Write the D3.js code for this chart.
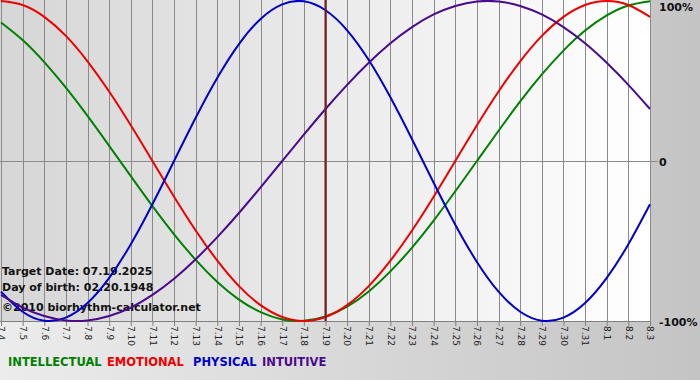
<!DOCTYPE html>
<html><head><meta charset="utf-8">
<script src="https://cdn.jsdelivr.net/npm/d3@7"></script>
<style>html,body{margin:0;padding:0;overflow:hidden;}svg{display:block;}</style>
</head><body>
<svg id="c" width="700" height="380"></svg>
<script>
const days = ["7.4","7.5","7.6","7.7","7.8","7.9","7.10","7.11","7.12","7.13","7.14","7.15","7.16","7.17","7.18","7.19","7.20","7.21","7.22","7.23","7.24","7.25","7.26","7.27","7.28","7.29","7.30","7.31","8.1","8.2","8.3"];
const physical = [-0.817,-0.942,-0.998,-0.979,-0.888,-0.731,-0.520,-0.270,0,0.270,0.520,0.731,0.888,0.979,0.998,0.942,0.817,0.631,0.398,0.136,-0.136,-0.398,-0.631,-0.817,-0.942,-0.998,-0.979,-0.888,-0.731,-0.520,-0.270];
const emotional = [1.000,0.975,0.901,0.782,0.623,0.434,0.223,0,-0.223,-0.434,-0.623,-0.782,-0.901,-0.975,-1.000,-0.975,-0.901,-0.782,-0.623,-0.434,-0.223,0,0.223,0.434,0.623,0.782,0.901,0.975,1.000,0.975,0.901];
const intellectual = [0.866,0.756,0.618,0.458,0.282,0.095,-0.095,-0.282,-0.458,-0.618,-0.756,-0.866,-0.945,-0.990,-0.999,-0.972,-0.910,-0.815,-0.690,-0.541,-0.372,-0.189,0,0.189,0.372,0.541,0.690,0.815,0.910,0.972,0.999];
const intuitive = [-0.837,-0.916,-0.969,-0.997,-0.997,-0.969,-0.916,-0.837,-0.736,-0.614,-0.476,-0.325,-0.165,0,0.165,0.325,0.476,0.614,0.736,0.837,0.916,0.969,0.997,0.997,0.969,0.916,0.837,0.736,0.614,0.476,0.325];
const yTicks = [{v:1,t:"100%"},{v:0,t:"0"},{v:-1,t:"-100%"}];
const targetDay = "7.19";
const infoLines = ["Target Date: 07.19.2025","Day of birth: 02.20.1948","\u00a92010 biorhythm-calculator.net"];
const series = [
  {name:"INTELLECTUAL", values:intellectual, color:"#008000"},
  {name:"EMOTIONAL", values:emotional, color:"#ee0000"},
  {name:"PHYSICAL", values:physical, color:"#0000cc"},
  {name:"INTUITIVE", values:intuitive, color:"#4b0a8c"}
];

const svg = d3.select("#c");
const defs = svg.append("defs");
const bg = defs.append("linearGradient").attr("id","bg").attr("x1","0").attr("x2","1").attr("y1","0").attr("y2","0");
bg.append("stop").attr("offset","0").attr("stop-color","#ececec");
bg.append("stop").attr("offset","1").attr("stop-color","#c4c4c4");
const pg = defs.append("linearGradient").attr("id","pg").attr("x1","0").attr("x2","1").attr("y1","0").attr("y2","0");
pg.append("stop").attr("offset","0").attr("stop-color","#d6d6d6");
pg.append("stop").attr("offset","1").attr("stop-color","#ffffff");

const L=1, R=650, T=1, B=321;
const x = d3.scalePoint().domain(days).range([L,R]);
const y = d3.scaleLinear().domain([-1,1]).range([B,T]);

svg.append("rect").attr("width",700).attr("height",380).attr("fill","url(#bg)");
svg.append("rect").attr("x",0).attr("y",0).attr("width",R+1).attr("height",B).attr("fill","url(#pg)");

// grid
const xAxis = d3.axisBottom(x).tickSize(5).tickPadding(3);
const gx = svg.append("g").attr("transform",`translate(0,${B})`).call(xAxis);
gx.select(".domain").attr("stroke","#808080").attr("d",`M0,0.5H${R+1}`);
gx.selectAll(".tick line").attr("stroke","#808080");
gx.selectAll(".tick text")
  .attr("transform","rotate(90)")
  .attr("x",5).attr("y",0).attr("dy","0.35em")
  .style("text-anchor","start")
  .attr("font-family","DejaVu Sans, Verdana, sans-serif")
  .attr("font-size","9px").attr("fill","#222");
svg.append("g").selectAll("line").data(days).join("line")
  .attr("x1",d=>Math.round(x(d))+0.5).attr("x2",d=>Math.round(x(d))+0.5)
  .attr("y1",0).attr("y2",B).attr("stroke","#8a8a8a").attr("stroke-width",1);
svg.append("line").attr("x1",0).attr("x2",R+8).attr("y1",Math.round(y(0))+0.5).attr("y2",Math.round(y(0))+0.5)
  .attr("stroke","#8a8a8a");

// right labels
svg.append("g").selectAll("text").data(yTicks).join("text")
  .attr("x",659).attr("y",d=>y(d.v)+ (d.v>0?6:1))
  .attr("dy","0.35em")
  .attr("font-family","DejaVu Sans, Verdana, sans-serif").attr("font-weight","bold").attr("font-size","11px")
  .attr("fill","#111").text(d=>d.t);

// info text
svg.append("g").selectAll("text").data(infoLines).join("text")
  .attr("x",2).attr("y",(d,i)=>[275,291,311][i])
  .attr("font-family","DejaVu Sans, Verdana, sans-serif").attr("font-weight","bold").attr("font-size","11px")
  .attr("fill","#111").text(d=>d);

// curves
const line = d3.line().x((d,i)=>x(days[i])).y(d=>y(d)).curve(d3.curveNatural);
svg.append("g").selectAll("path").data(series).join("path")
  .attr("d",d=>line(d.values)).attr("fill","none").attr("stroke",d=>d.color).attr("stroke-width",2);

// target line
svg.append("line").attr("x1",x(targetDay)).attr("x2",x(targetDay)).attr("y1",0).attr("y2",B)
  .attr("stroke","#7a1a1a").attr("stroke-width",2);

// legend
const legendX = [8,107,193,262];
svg.append("g").selectAll("text").data(series).join("text")
  .attr("x",(d,i)=>legendX[i]).attr("y",366)
  .attr("font-family","DejaVu Sans, Verdana, sans-serif").attr("font-weight","bold").attr("font-size","11.5px")
  .attr("fill",d=>d.color).text(d=>d.name);
</script>
</body></html>
